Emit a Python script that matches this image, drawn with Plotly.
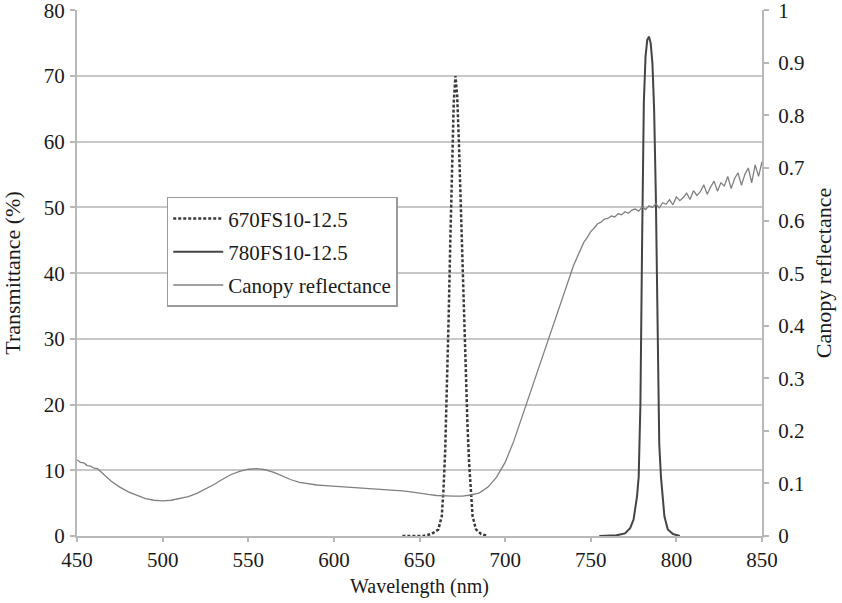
import plotly.graph_objects as go

# ---- Data ----
canopy_wl = [450, 452, 454, 456, 458, 460, 462, 464, 466, 470, 475, 480, 485, 490, 495, 500,
             505, 510, 515, 520, 525, 530, 535, 540, 545, 550, 555, 560, 565, 570, 575,
             580, 585, 590, 595, 600, 605, 610, 615, 620, 625, 630, 635, 640, 645, 650,
             655, 660, 665, 670, 675, 680, 685, 690, 695, 700, 705, 710, 715, 720, 725,
             730, 735, 740,
             742, 744, 746, 748, 750, 752, 754, 756, 758, 760, 762, 764, 766, 768, 770,
             772, 774, 776, 778, 780, 782, 784, 786, 788, 790, 792, 794, 796, 798, 800,
             802, 804, 806, 808, 810, 812, 814, 816, 818, 820, 822, 824, 826, 828, 830,
             832, 834, 836, 838, 840, 842, 844, 846, 848, 850]
canopy_refl = [0.145, 0.140, 0.139, 0.134, 0.133, 0.129, 0.128, 0.121, 0.116, 0.104, 0.093, 0.084,
               0.077, 0.071, 0.068, 0.067, 0.068, 0.071, 0.075, 0.081, 0.089, 0.098, 0.108,
               0.117, 0.123, 0.127, 0.128, 0.126, 0.121, 0.114, 0.107, 0.102, 0.099, 0.097,
               0.096, 0.095, 0.094, 0.093, 0.092, 0.091, 0.089, 0.088, 0.088, 0.086, 0.084,
               0.081, 0.079, 0.077, 0.076, 0.076, 0.076, 0.078, 0.082, 0.093, 0.112, 0.140,
               0.180, 0.228, 0.278, 0.322, 0.370, 0.420, 0.470, 0.515,
               0.530, 0.546, 0.559, 0.568, 0.579, 0.586, 0.594, 0.597, 0.603, 0.604,
               0.609, 0.607, 0.613, 0.611, 0.617, 0.614, 0.620, 0.622, 0.618, 0.626,
               0.621, 0.628, 0.625, 0.632, 0.624, 0.634, 0.631, 0.640, 0.630, 0.645,
               0.638, 0.644, 0.652, 0.640, 0.657, 0.648, 0.655, 0.668, 0.650, 0.664,
               0.675, 0.656, 0.672, 0.666, 0.684, 0.661, 0.680, 0.691, 0.667, 0.688,
               0.700, 0.672, 0.706, 0.684, 0.712]

f670_wl = [640, 652, 657, 661, 663, 664, 665, 666, 667, 668, 669, 670, 671, 672, 673, 674,
           675, 676, 677, 678, 679, 680, 681, 683, 686, 690]
f670_t = [0, 0, 0.3, 1, 3, 7, 13, 22, 33, 45, 57, 66, 70, 67, 60, 51,
          42, 33, 25, 17, 11, 6, 3, 1, 0.3, 0]

f780_wl = [755, 765, 770, 773, 775, 776, 777, 778, 779, 780, 781, 782, 783, 784, 785, 786,
           787, 788, 789, 790, 791, 792, 793, 795, 798, 802]
f780_t = [0, 0.1, 0.4, 1.2, 2.5, 4, 6, 9, 20, 45, 66, 73, 75.5, 76, 75, 72,
          65, 52, 28, 14, 9, 5.5, 3, 1, 0.3, 0]

x_ticks = [450, 500, 550, 600, 650, 700, 750, 800, 850]
y_left_ticks = [0, 10, 20, 30, 40, 50, 60, 70, 80]
y_right_ticks = [0, 0.1, 0.2, 0.3, 0.4, 0.5, 0.6, 0.7, 0.8, 0.9, 1]
y_right_labels = ["0", "0.1", "0.2", "0.3", "0.4", "0.5", "0.6", "0.7", "0.8", "0.9", "1"]

FONT = "Liberation Serif"
AXIS_GRAY = "#b8b8b8"
TXT = "#1a1a1a"
PAD = 1.0006  # tiny range pad so the top gridline at 80 is drawn

fig = go.Figure()
fig.add_trace(go.Scatter(x=f670_wl, y=f670_t, mode="lines", name="670FS10-12.5",
                         line=dict(color="#3a3a3a", width=2.5, dash="3px,2px"),
                         legendgroup="a"))
fig.add_trace(go.Scatter(x=f780_wl, y=f780_t, mode="lines", name="780FS10-12.5",
                         line=dict(color="#444444", width=2),
                         legendgroup="b"))
fig.add_trace(go.Scatter(x=canopy_wl, y=canopy_refl, mode="lines", name="Canopy reflectance",
                         line=dict(color="#808080", width=1.3),
                         yaxis="y2", legendgroup="c"))

fig.update_layout(
    width=842, height=603,
    margin=dict(l=77, r=80, t=10, b=67, autoexpand=False),
    paper_bgcolor="white", plot_bgcolor="white",
    font=dict(family=FONT, size=21, color=TXT),
    showlegend=True,
    legend=dict(x=0.131, y=0.645, xanchor="left", yanchor="top",
                bgcolor="white", bordercolor="#9a9a9a", borderwidth=1.5,
                font=dict(family=FONT, size=21, color=TXT),
                itemwidth=50,
                traceorder="grouped", tracegroupgap=3),
    xaxis=dict(range=[450, 850], tickvals=x_ticks, showgrid=False,
               showline=True, linecolor=AXIS_GRAY, linewidth=2,
               ticks="outside", ticklen=4, tickcolor=AXIS_GRAY, tickwidth=1.5,
               ticklabelstandoff=0, automargin=False, ticklabeloverflow="allow",
               title=dict(text="Wavelength (nm)", standoff=8, font=dict(size=20)),
               zeroline=False),
    yaxis=dict(range=[0, 80 * PAD], tickvals=y_left_ticks, showgrid=True,
               gridcolor="#c8c8c8", gridwidth=2,
               showline=True, linecolor=AXIS_GRAY, linewidth=2,
               ticks="outside", ticklen=5, tickcolor=AXIS_GRAY, tickwidth=1.5,
               ticklabelstandoff=1, automargin=False, ticklabeloverflow="allow",
               title=dict(text="Transmittance (%)", standoff=18, font=dict(size=22)),
               zeroline=False),
    yaxis2=dict(range=[0, 1 * PAD], tickvals=y_right_ticks, ticktext=y_right_labels,
                overlaying="y", side="right", showgrid=False,
                showline=True, linecolor=AXIS_GRAY, linewidth=2,
                ticks="outside", ticklen=5, tickcolor=AXIS_GRAY, tickwidth=1.5,
                ticklabelstandoff=5, automargin=False, ticklabeloverflow="allow",
                title=dict(text="Canopy reflectance", standoff=12, font=dict(size=22)),
                zeroline=False),
)

fig.write_html("out.html", config={"displayModeBar": False},
               post_script="document.body.style.margin='0';document.body.style.overflow='hidden';")
